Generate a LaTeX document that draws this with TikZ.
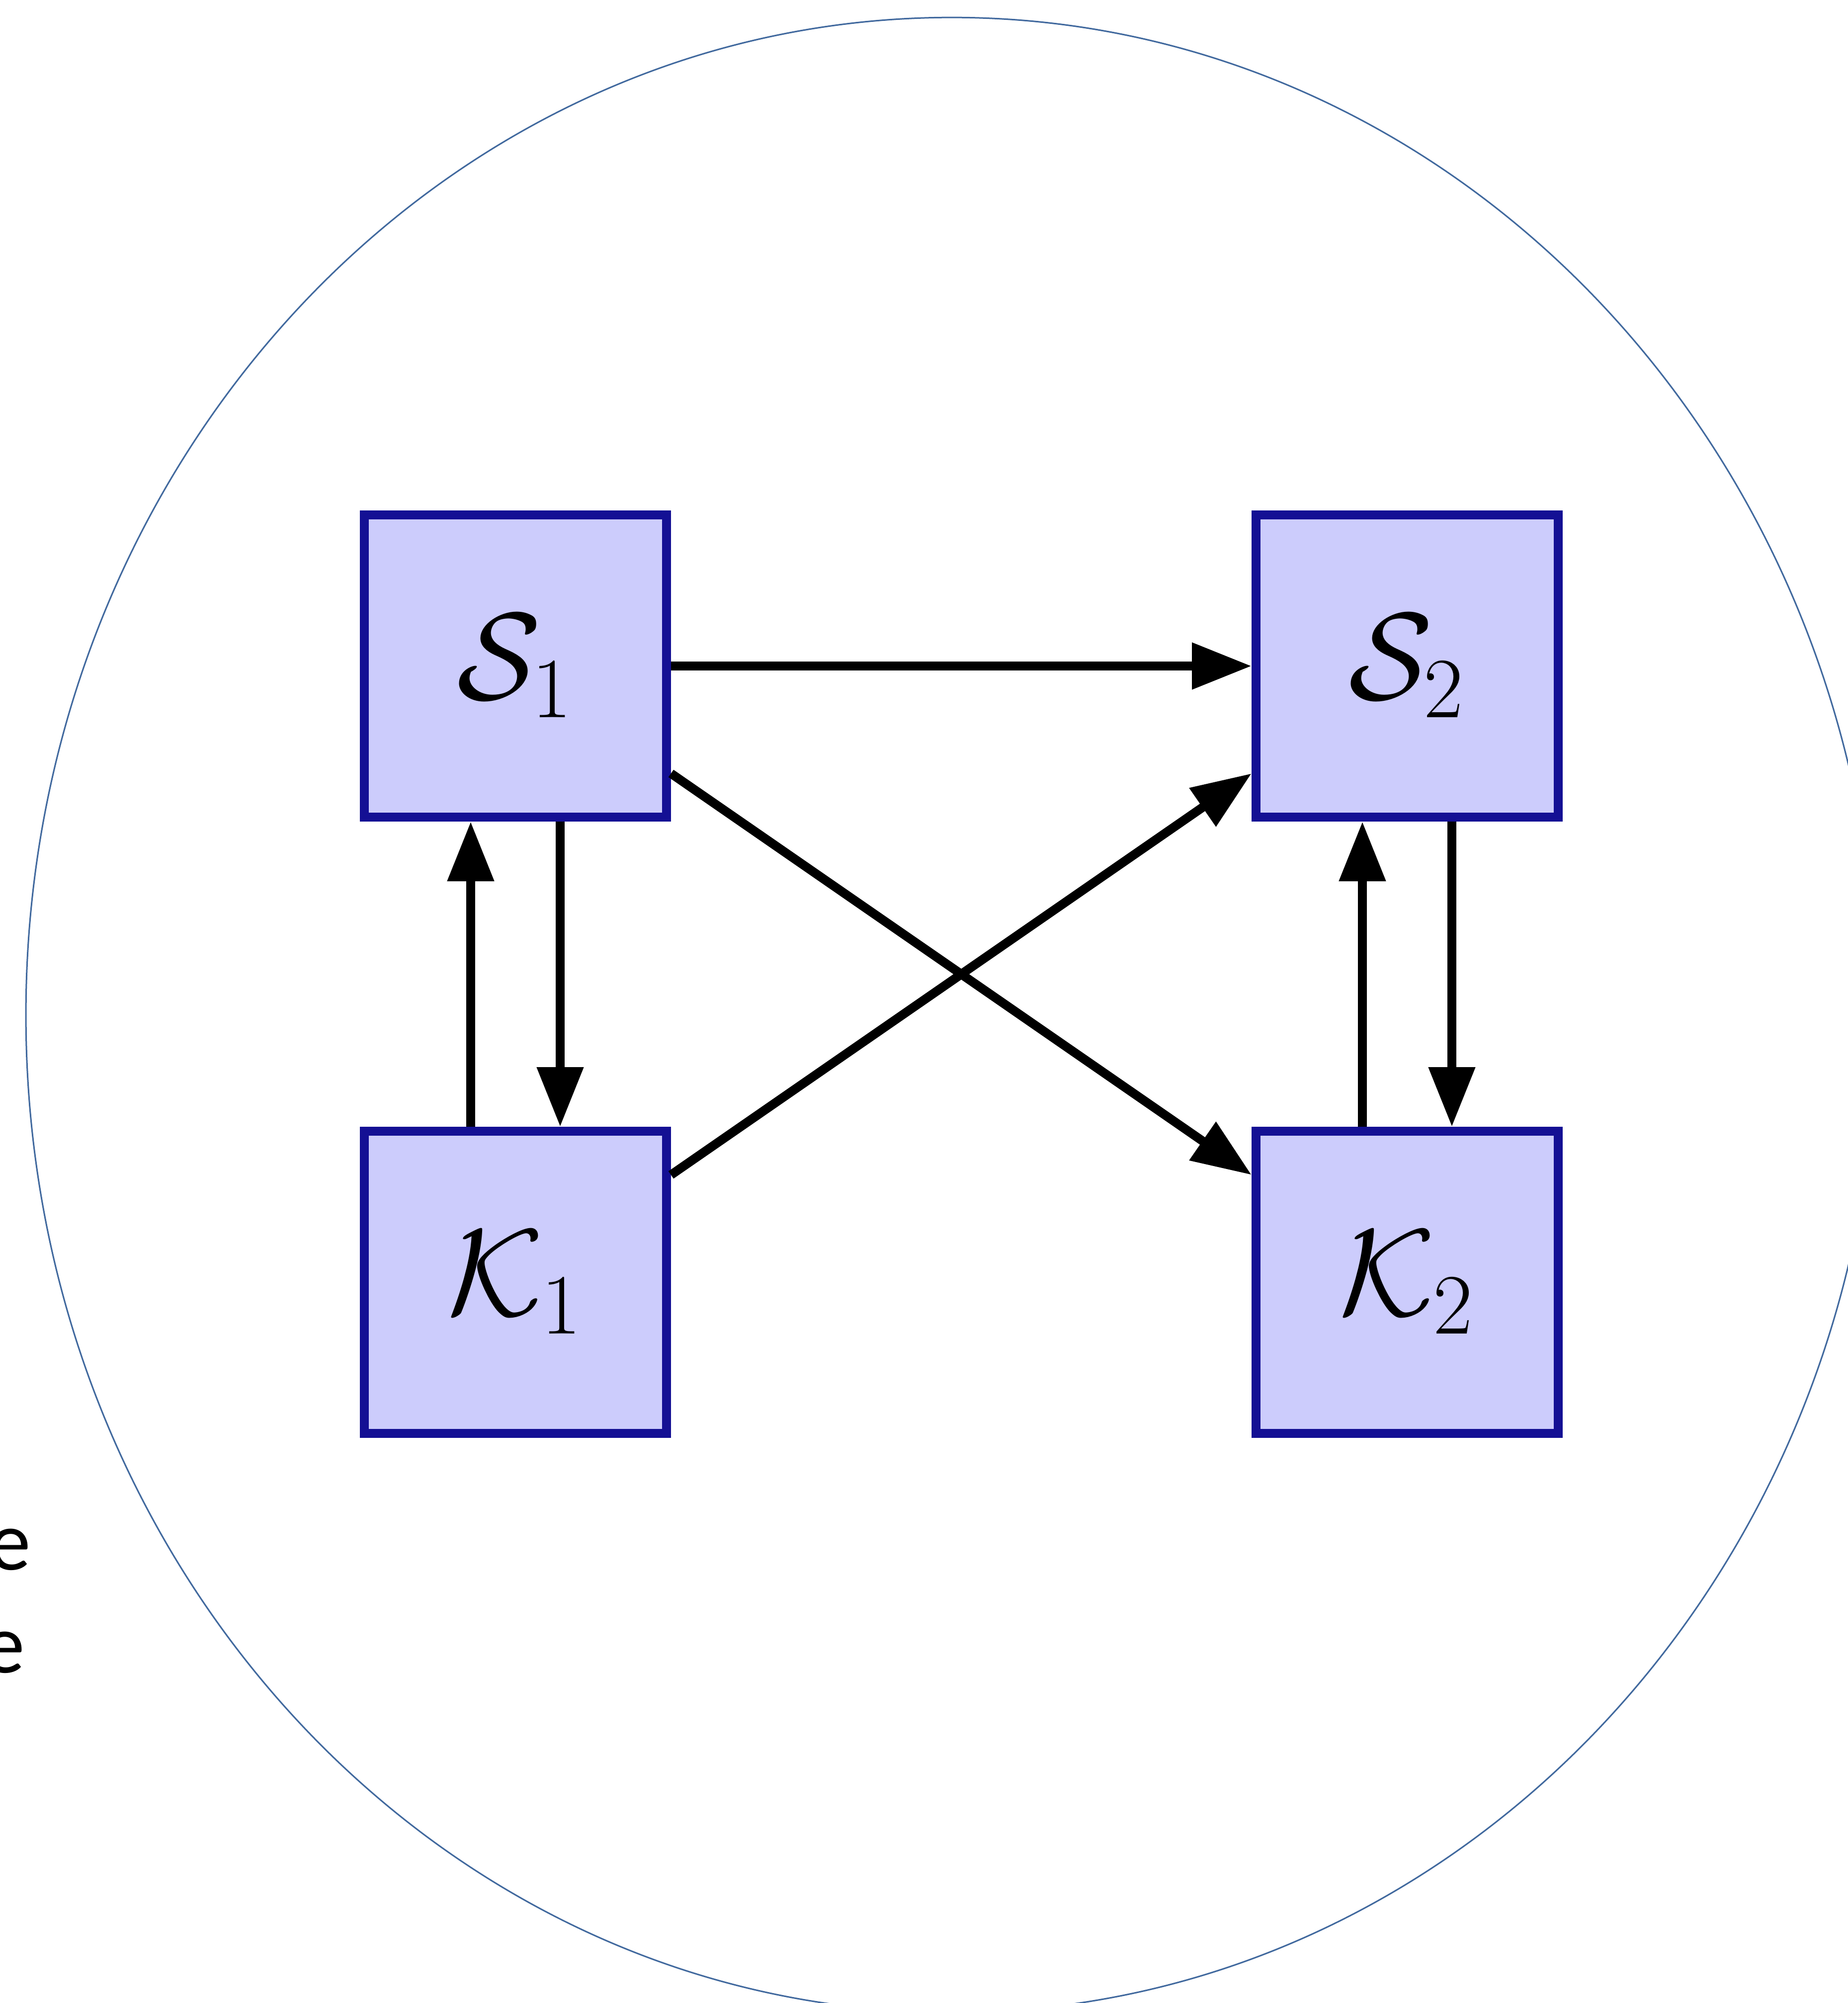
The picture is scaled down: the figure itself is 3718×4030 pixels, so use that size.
\documentclass[tikz,border=0pt]{standalone}
\usepackage{amsmath}
\usepackage{fontspec}
\newfontfamily\slidefont{Carlito}
\usetikzlibrary{arrows.meta}
\DeclareMathSizes{24.88}{24.88}{17.28}{12}

\definecolor{boxfill}{RGB}{204,204,252}
\definecolor{boxline}{RGB}{20,16,148}
\definecolor{ringline}{RGB}{65,105,158}

\tikzset{
  blk/.style={draw=boxline,fill=boxfill,line width=1.8pt,minimum width=60.8pt,minimum height=60.8pt,inner sep=0pt,font=\Huge},
  link/.style={line width=1.8pt,-{Triangle[length=12pt,width=9pt]}},
  cuttext/.style={font=\slidefont\fontsize{17}{20}\selectfont,inner sep=0pt,anchor=base east},
}

\begin{document}
\begin{tikzpicture}[x=0.1pt,y=-0.1pt]
\useasboundingbox (0,0) rectangle (3718,4030);
%\draw[step=100,gray,very thin] (0,0) grid (3718,4030); %background grid

\draw[ringline,line width=0.3pt] (1915,2042) ellipse [x radius=186.3pt,y radius=200.7pt];

% text cut off at the left
\node[cuttext] (e1) at (64,3158) {e};
\node[cuttext] (e2) at (52,3365) {e};

\node[blk] (S1) at (1037,1340) {$\mathcal{S}_1$};
\node[blk] (S2) at (2831,1340) {$\mathcal{S}_2$};
\node[blk] (K1) at (1037,2580) {$\mathcal{K}_1$};
\node[blk] (K2) at (2831,2580) {$\mathcal{K}_2$};

\draw[link] (S1) -- (S2);
\draw[link] (S1) -- (K2);
\draw[link] (K1) -- (S2);

\draw[link] ([xshift=-9pt]K1.north) -- ([xshift=-9pt]S1.south);
\draw[link] ([xshift=9pt]S1.south) -- ([xshift=9pt]K1.north);
\draw[link] ([xshift=-9pt]K2.north) -- ([xshift=-9pt]S2.south);
\draw[link] ([xshift=9pt]S2.south) -- ([xshift=9pt]K2.north);
\end{tikzpicture}
\end{document}
